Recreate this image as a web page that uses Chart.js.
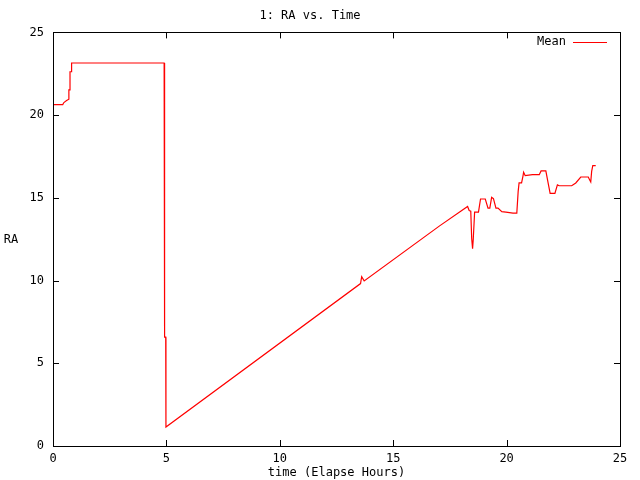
<!DOCTYPE html>
<html>
<head>
<meta charset="utf-8">
<script src="https://cdn.jsdelivr.net/npm/chart.js@4/dist/chart.umd.min.js"></script>
<style>
  body { margin: 0; background: #fff; }
</style>
</head>
<body>
<canvas id="myChart" width="640" height="480"></canvas>
<script>
// RA (mean) vs elapsed hours
var hours = [0, 0.43, 0.48, 0.6, 0.7, 0.7, 0.75, 0.75, 0.82, 0.82, 4.9,
  4.9, 4.93, 4.93, 4.97, 4.98,
  13.56, 13.61, 13.72, 17.03, 18.28, 18.35, 18.42, 18.46, 18.5, 18.53, 18.59,
  18.76, 18.85, 19.06, 19.18, 19.26, 19.34, 19.42, 19.53, 19.62, 19.79, 19.97,
  20.28, 20.45, 20.51, 20.55, 20.66, 20.72, 20.75, 20.82, 21.14, 21.44, 21.52,
  21.73, 21.83, 21.92, 22.13, 22.24, 22.32, 22.87, 23.05, 23.27, 23.6, 23.67,
  23.71, 23.75, 23.8, 23.93];
var ra = [20.64, 20.64, 20.76, 20.88, 20.96, 21.52, 21.52, 22.62, 22.62, 23.15, 23.15,
  17.62, 17.62, 6.58, 6.58, 1.15,
  9.82, 10.23, 9.98, 13.29, 14.48, 14.23, 14.2, 12.56, 11.93, 12.5, 14.14,
  14.14, 14.93, 14.93, 14.38, 14.38, 15.03, 14.95, 14.38, 14.38, 14.17, 14.14,
  14.08, 14.08, 15.39, 15.9, 15.9, 16.3, 16.55, 16.34, 16.4, 16.4, 16.63,
  16.63, 15.9, 15.27, 15.27, 15.78, 15.73, 15.73, 15.9, 16.26, 16.26, 16.06,
  15.96, 16.6, 16.95, 16.95];
var xTicks = [0, 5, 10, 15, 20, 25];
var yTicks = [0, 5, 10, 15, 20, 25];
var serie = 'Mean';

var fuente = { family: 'DejaVu Sans Mono', size: 12 };

var puntos = [];
hours.forEach(function (h, i) {
  puntos.push({ x: h, y: ra[i] });
});

// gnuplot style frame: box, inward ticks on all sides, legend, y label
var marco = {
  id: 'marco',
  beforeDraw: function (chart) {
    var ctx = chart.ctx;
    ctx.save();
    ctx.fillStyle = '#fff';
    ctx.fillRect(0, 0, chart.width, chart.height);
    ctx.restore();
  },
  afterDraw: function (chart) {
    var ctx = chart.ctx;
    var a = chart.chartArea;
    var sx = chart.scales.x, sy = chart.scales.y;
    ctx.save();
    ctx.strokeStyle = '#000';
    ctx.lineWidth = 1;
    ctx.strokeRect(Math.round(a.left) + 0.5, Math.round(a.top) + 0.5,
      Math.round(a.right - a.left), Math.round(a.bottom - a.top));
    ctx.beginPath();
    xTicks.forEach(function (t) {
      var px = Math.round(sx.getPixelForValue(t)) + 0.5;
      ctx.moveTo(px, a.bottom); ctx.lineTo(px, a.bottom - 6);
      ctx.moveTo(px, a.top); ctx.lineTo(px, a.top + 6);
    });
    yTicks.forEach(function (t) {
      var py = Math.round(sy.getPixelForValue(t)) + 0.5;
      ctx.moveTo(a.left, py); ctx.lineTo(a.left + 6, py);
      ctx.moveTo(a.right, py); ctx.lineTo(a.right - 6, py);
    });
    ctx.stroke();

    ctx.font = '12px "DejaVu Sans Mono"';
    ctx.fillStyle = '#000';
    ctx.textBaseline = 'middle';
    ctx.textAlign = 'center';
    ctx.fillText('RA', 11, 240);

    // legend
    ctx.textAlign = 'right';
    ctx.fillText(serie, 566, 42);
    ctx.strokeStyle = '#ff0000';
    ctx.beginPath();
    ctx.moveTo(573, 42.5);
    ctx.lineTo(607, 42.5);
    ctx.stroke();
    ctx.restore();
  }
};

var ctx = document.getElementById('myChart').getContext('2d');
var chart = new Chart(ctx, {
  type: 'line',
  data: {
    datasets: [{
      label: serie,
      data: puntos,
      borderColor: '#ff0000',
      borderWidth: 1.2,
      pointRadius: 0,
      fill: false,
      tension: 0
    }]
  },
  options: {
    responsive: false,
    animation: false,
    devicePixelRatio: 1,
    layout: { padding: { left: 0, right: 20, top: 0, bottom: 0 } },
    plugins: {
      legend: { display: false },
      tooltip: { enabled: false },
      title: {
        display: true,
        text: '1: RA vs. Time',
        color: '#000',
        font: { family: 'DejaVu Sans Mono', size: 12, weight: 'normal' },
        padding: { top: 9, bottom: 9 }
      }
    },
    scales: {
      x: {
        type: 'linear',
        min: 0,
        max: 25,
        afterFit: function (scale) { scale.height = 34; },
        afterBuildTicks: function (scale) {
          scale.ticks = xTicks.map(function (v) { return { value: v }; });
        },
        grid: { display: false, drawTicks: false },
        border: { display: false },
        ticks: { color: '#000', font: fuente, padding: 6, maxRotation: 0 },
        title: {
          display: true,
          text: 'time (Elapse Hours)',
          color: '#000',
          font: fuente,
          padding: { top: 0, bottom: 0 }
        }
      },
      y: {
        type: 'linear',
        min: 0,
        max: 25,
        afterFit: function (scale) { scale.width = 53; },
        afterBuildTicks: function (scale) {
          scale.ticks = yTicks.map(function (v) { return { value: v }; });
        },
        grid: { display: false, drawTicks: false },
        border: { display: false },
        ticks: { color: '#000', font: fuente, padding: 9 }
      }
    }
  },
  plugins: [marco]
});
</script>
</body>
</html>
